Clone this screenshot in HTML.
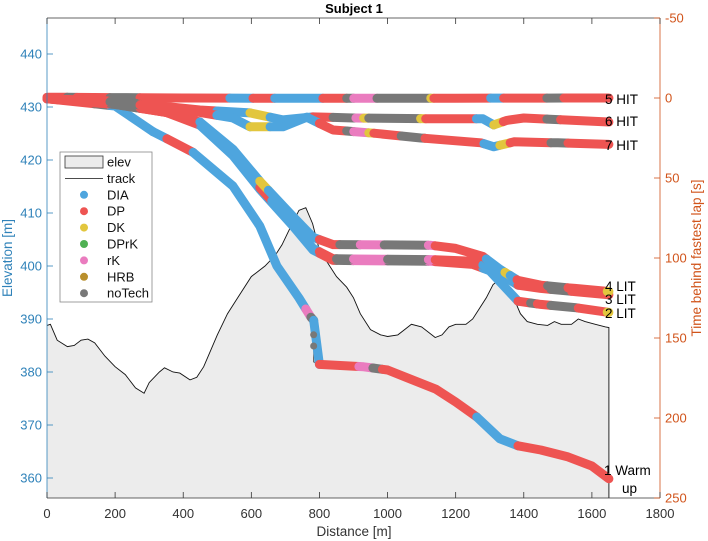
<!DOCTYPE html>
<html><head><meta charset="utf-8">
<style>
html,body{margin:0;padding:0;background:#fff;}
svg{display:block;font-family:"Liberation Sans",Arial,sans-serif;}
</style></head>
<body>
<svg id="chart" width="708" height="541" viewBox="0 0 708 541" xmlns="http://www.w3.org/2000/svg">
<rect x="0" y="0" width="708" height="541" fill="#fff"/>
<text x="354" y="13" text-anchor="middle" font-size="13" font-weight="bold">Subject 1</text>
<g id="elevLayer"></g>
<g id="lapLayer"></g>
<g id="axes"></g>
<g id="legend"></g>
</svg>
<script>
// ---- data ----
const elevDist = [0,10,30,60,80,100,120,140,170,200,230,260,285,300,330,345,370,390,420,440,460,480,500,530,560,600,640,670,690,720,740,760,780,800,820,850,880,900,920,950,980,1000,1030,1050,1070,1100,1140,1160,1180,1200,1230,1250,1270,1290,1310,1330,1350,1370,1390,1410,1440,1470,1490,1510,1540,1560,1580,1610,1640,1650];
const elevVals = [388.8,389,386,384.8,385,386,386.2,385.5,383,381,379.5,377,376,378,380,380.8,380,379.8,378.5,379,381,384,387,391,394,398,400,402,404,408,410.5,411,408,403,401,398,396,394,391,388,387,386.7,387,388,389,388.5,386.5,387,388.5,389,389,390,392,394,396.5,397.5,397,394,391,389.5,389,388.8,389.5,389,389,390,389.5,389,388.5,388.4];

const lapNames = ["1 Warm up","2 LIT","3 LIT","4 LIT","5 HIT","6 HIT","7 HIT"];
const lap1Dist = [0,200,311,429,546,625,675,740,775,783,783,800,930,1000,1142,1200,1262,1330,1383,1450,1530,1600,1650];
const lap1Time = [0.5,5,21,34,55,80,105,125,137,139,165,166.5,168,170,182,190,199.4,213,217.4,220,224.3,230,238];
const lap2Dist = [0,200,350,449,546,625,722,781,840,1000,1125,1250,1300,1383,1450,1550,1650];
const lap2Time = [0.5,4,9,17,36,57,80,95,101.5,101.8,102,104,108,127,129,131,134];
const lap3Dist = [0,200,350,449,546,625,722,781,840,1000,1125,1250,1300,1330,1383,1450,1550,1650];
const lap3Time = [0.5,4,9,16,35,56,79,94,100.5,100.8,101,102,106,110,117,119,121,123];
const lap4Dist = [0,200,350,449,546,625,722,781,840,1000,1125,1200,1280,1330,1383,1450,1550,1650];
const lap4Time = [0.5,3.5,9,15,32,52,74,87,91.6,91.8,92,94,99,107,114,117,119,121];
const lap5Dist = [0,400,800,1200,1650];
const lap5Time = [-0.5,0,0.2,0.1,0];
const lap6Dist = [0,200,449,546,596,693,781,900,1150,1280,1312,1350,1400,1650];
const lap6Time = [0.5,2,7.5,8.7,9.3,13.7,11.8,12.5,13,13,16.8,14,12.5,15];
const lap7Dist = [0,200,449,546,596,693,763,840,901,960,1098,1274,1312,1371,1500,1650];
const lap7Time = [0.5,2.5,9,12.5,18,18,12,20,21,22,25,28,30.5,27.4,28,29];

// technique segments [start, end, tech]
const lap1Tech = [[0,140,"DP"],[140,185,"noTech"],[185,311,"DIA"],[311,352,"DIA"],[352,429,"DP"],[429,760,"DIA"],[760,775,"rK"],[775,783,"noTech"],[783,800,"DIA"],[800,916,"DP"],[916,957,"rK"],[957,985,"noTech"],[985,1262,"DP"],[1262,1383,"DIA"],[1383,1650,"DP"]];
const lap2Tech = [[0,185,"DP"],[185,273,"noTech"],[273,449,"DP"],[449,800,"DIA"],[800,850,"DP"],[850,900,"noTech"],[900,1000,"rK"],[1000,1120,"noTech"],[1120,1140,"rK"],[1140,1280,"DP"],[1280,1383,"DIA"],[1383,1420,"DP"],[1420,1440,"noTech"],[1440,1480,"DP"],[1480,1560,"noTech"],[1560,1645,"DP"],[1645,1650,"DK"]];
const lap3Tech = [[0,185,"DP"],[185,273,"noTech"],[273,449,"DP"],[449,625,"DIA"],[625,660,"DP"],[660,800,"DIA"],[800,850,"DP"],[850,900,"noTech"],[900,1000,"rK"],[1000,1120,"noTech"],[1120,1140,"rK"],[1140,1280,"DP"],[1280,1383,"DIA"],[1383,1480,"DP"],[1480,1540,"noTech"],[1540,1650,"DP"]];
const lap4Tech = [[0,185,"DP"],[185,273,"noTech"],[273,449,"DP"],[449,625,"DIA"],[625,650,"DK"],[650,800,"DIA"],[800,860,"DP"],[860,920,"noTech"],[920,990,"rK"],[990,1120,"noTech"],[1120,1140,"rK"],[1140,1290,"DP"],[1290,1345,"DIA"],[1345,1360,"DK"],[1360,1380,"DIA"],[1380,1470,"DP"],[1470,1530,"noTech"],[1530,1645,"DP"],[1645,1650,"DK"]];
const lap5Tech = [[0,59,"DP"],[59,88,"noTech"],[88,185,"DP"],[185,273,"noTech"],[273,537,"DP"],[537,605,"DIA"],[605,669,"DP"],[669,810,"DIA"],[810,880,"DP"],[880,901,"noTech"],[901,969,"rK"],[969,1127,"noTech"],[1127,1136,"DK"],[1136,1303,"DP"],[1303,1341,"DIA"],[1341,1468,"DP"],[1468,1518,"noTech"],[1518,1650,"DP"]];
const lap6Tech = [[0,185,"DP"],[185,273,"noTech"],[273,499,"DP"],[499,596,"DIA"],[596,655,"DK"],[655,781,"DIA"],[781,840,"DP"],[840,907,"noTech"],[907,930,"rK"],[930,945,"DK"],[945,1097,"noTech"],[1097,1112,"DK"],[1112,1261,"DP"],[1261,1312,"DIA"],[1312,1340,"DK"],[1340,1468,"DP"],[1468,1508,"noTech"],[1508,1650,"DP"]];
const lap7Tech = [[0,185,"DP"],[185,273,"noTech"],[273,499,"DP"],[499,596,"DIA"],[596,655,"DK"],[655,800,"DIA"],[800,880,"DP"],[880,901,"noTech"],[901,945,"rK"],[945,960,"DK"],[960,1040,"DP"],[1040,1110,"noTech"],[1110,1283,"DP"],[1283,1330,"DIA"],[1330,1360,"DK"],[1360,1480,"DP"],[1480,1530,"noTech"],[1530,1650,"DP"]];

const xTicks = [0,200,400,600,800,1000,1200,1400,1600,1800];
const yLeftTicks = [360,370,380,390,400,410,420,430,440];
const yRightTicks = [-50,0,50,100,150,200,250];
const legendLabels = ["elev","track","DIA","DP","DK","DPrK","rK","HRB","noTech"];

// ---- scales ----
const PL=47, PR=660, PT=18, PB=498;
const X = d => PL + (d-0)/(1800-0)*(PR-PL);
const YL = e => 107 + (430-e)*5.3;
const YR = t => PT + (t+50)/300*(PB-PT);
const techColor = {DIA:"#4ea5de",DP:"#ee5452",DK:"#e2c63e",DPrK:"#4fb153",rK:"#ea7cbf",HRB:"#b98f2c",noTech:"#787878"};
const NS="http://www.w3.org/2000/svg";
function mk(tag, attrs, parent){const e=document.createElementNS(NS,tag);for(const k in attrs)e.setAttribute(k,attrs[k]);parent.appendChild(e);return e;}

// ---- elevation ----
const elevLayer=document.getElementById('elevLayer');
let pts=elevDist.map((d,i)=>X(d).toFixed(1)+","+YL(elevVals[i]).toFixed(1));
const area=mk('polygon',{points:X(0)+","+PB+" "+pts.join(" ")+" "+X(1650)+","+PB,fill:"#ececec",stroke:"none"},elevLayer);


const eline=mk('polyline',{points:pts.join(" ")+" "+X(1650)+","+PB,fill:"none",stroke:"#111","stroke-width":"0.9"},elevLayer);



// ---- laps ----
const lapLayer=document.getElementById('lapLayer');
const laps=[[lap1Dist,lap1Time,lap1Tech],[lap2Dist,lap2Time,lap2Tech],[lap3Dist,lap3Time,lap3Tech],[lap4Dist,lap4Time,lap4Tech],[lap5Dist,lap5Time,lap5Tech],[lap6Dist,lap6Time,lap6Tech],[lap7Dist,lap7Time,lap7Tech]];
function interp(ds,ts,d){for(let i=1;i<ds.length;i++){if(d<=ds[i]){const a=ds[i-1],b=ds[i];if(b===a)return ts[i];return ts[i-1]+(ts[i]-ts[i-1])*(d-a)/(b-a);}}return ts[ts.length-1];}
laps.forEach((L,li)=>{
  const [ds,ts,tech]=L;
  const g=mk('g',{},lapLayer);
  
  
  const tl=mk('polyline',{points:ds.map((d,i)=>X(d).toFixed(1)+","+YR(ts[i]).toFixed(1)).join(" "),fill:"none",stroke:"#333","stroke-width":"0.8"},g);
  
  
  tech.forEach(seg=>{
    const [s,e,t]=seg;
    const p=[];
    p.push([s,interp(ds,ts,s)]);
    ds.forEach((d,i)=>{if(d>s&&d<e)p.push([d,ts[i]]);});
    p.push([e,interp(ds,ts,e)]);
    const pl=mk('polyline',{points:p.map(q=>X(q[0]).toFixed(1)+","+YR(q[1]).toFixed(1)).join(" "),fill:"none",stroke:techColor[t],"stroke-width":"9","stroke-linecap":"round","stroke-linejoin":"round"},g);
    
    
  });
});
[[783,148],[783,155]].forEach(p=>{
  const c=mk('circle',{cx:X(p[0]),cy:YR(p[1]),r:3.5,fill:techColor.noTech},lapLayer);
  
  
});
const labelPos=[[630,470],[605,313],[605,299],[605,286],[605,99],[605,121],[605,145]];
lapNames.forEach((n,i)=>{
  if(i===0){
    const t=mk('text',{x:604,y:475,"font-size":"13.5",fill:"#000"},lapLayer);t.textContent="1 Warm";
    
    const t2=mk('text',{x:622,y:493,"font-size":"13.5",fill:"#000"},lapLayer);t2.textContent="up";
    
  } else {
    const t=mk('text',{x:labelPos[i][0],y:labelPos[i][1]+5,"font-size":"13.5",fill:"#000"},lapLayer);t.textContent=n;
    
  }
});

// ---- axes ----
const ax=document.getElementById('axes');
const blue="#2f82b9", orange="#d1541b";
let l;
l=mk('line',{x1:PL,y1:PT,x2:PR,y2:PT,stroke:"#333","stroke-width":"0.8"},ax);
l=mk('line',{x1:PL,y1:PB,x2:PR,y2:PB,stroke:"#333","stroke-width":"0.8"},ax);
l=mk('line',{x1:PL,y1:PT,x2:PL,y2:PB,stroke:blue,"stroke-width":"0.8"},ax);
l=mk('line',{x1:PR,y1:PT,x2:PR,y2:PB,stroke:orange,"stroke-width":"0.8"},ax);
xTicks.forEach(v=>{
  mk('line',{x1:X(v),y1:PB,x2:X(v),y2:PB-6,stroke:"#333","stroke-width":"0.8"},ax);
  mk('line',{x1:X(v),y1:PT,x2:X(v),y2:PT+6,stroke:"#333","stroke-width":"0.8"},ax);
  const t=mk('text',{x:X(v),y:518,"text-anchor":"middle","font-size":"13",fill:"#333"},ax);t.textContent=v;
  
});
yLeftTicks.forEach(v=>{
  mk('line',{x1:PL,y1:YL(v),x2:PL+6,y2:YL(v),stroke:blue,"stroke-width":"0.8"},ax);
  const t=mk('text',{x:PL-5,y:YL(v)+4.5,"text-anchor":"end","font-size":"13",fill:blue},ax);t.textContent=v;
  
});
yRightTicks.forEach(v=>{
  mk('line',{x1:PR,y1:YR(v),x2:PR-6,y2:YR(v),stroke:orange,"stroke-width":"0.8"},ax);
  const t=mk('text',{x:PR+5,y:YR(v)+4.5,"font-size":"13",fill:orange},ax);t.textContent=v;
  
});
let t;
t=mk('text',{x:354,y:536,"text-anchor":"middle","font-size":"13.5",fill:"#333"},ax);t.textContent="Distance [m]";

t=mk('text',{x:12,y:258,"text-anchor":"middle","font-size":"13.5",fill:blue,transform:"rotate(-90 12 258)"},ax);t.textContent="Elevation [m]";

t=mk('text',{x:701,y:258,"text-anchor":"middle","font-size":"13.5",fill:orange,transform:"rotate(-90 701 258)"},ax);t.textContent="Time behind fastest lap [s]";


// ---- legend ----
const lg=document.getElementById('legend');
mk('rect',{x:60,y:152,width:92,height:150,fill:"#fff",stroke:"#888","stroke-width":"0.8"},lg);
legendLabels.forEach((n,i)=>{
  const y=162+i*16.4;
  const item=mk('g',{},lg);
  
  
  if(i===0) mk('rect',{x:65,y:y-6,width:38,height:12,fill:"#ececec",stroke:"#333","stroke-width":"0.8"},item);
  else if(i===1) mk('line',{x1:65,y1:y,x2:103,y2:y,stroke:"#333","stroke-width":"0.9"},item);
  else mk('circle',{cx:84,cy:y,r:4,fill:techColor[n]},item);
  const tx=mk('text',{x:107,y:y+4.5,"font-size":"13",fill:"#111"},item);tx.textContent=n;
});
</script>
</body></html>
